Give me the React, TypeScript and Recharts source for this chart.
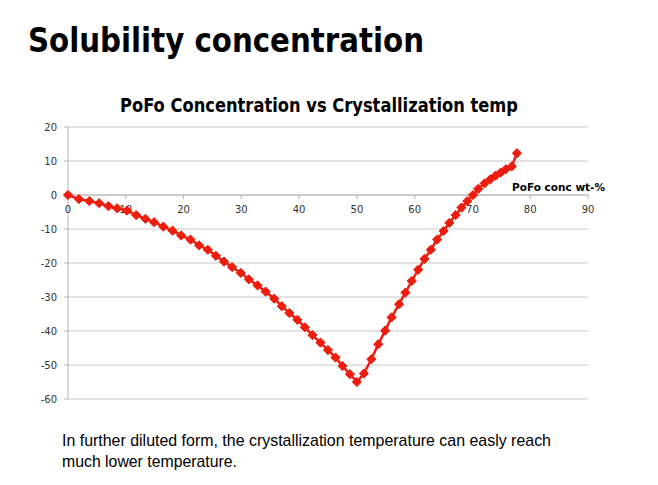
import React from "react";
import { LineChart, Line, XAxis, YAxis, CartesianGrid, ReferenceLine, ReferenceDot } from "recharts";

// PoFo concentration (wt-%) and crystallization temperature (°C)
const concentration = [
  0, 1.9, 3.7, 5.4, 7.0, 8.5, 10.2, 11.8, 13.4, 14.9,
  16.5, 18.1, 19.6, 21.2, 22.7, 24.2, 25.6, 27.0, 28.4, 29.9,
  31.3, 32.8, 34.2, 35.7, 37.0, 38.3, 39.7, 41.0, 42.3, 43.7,
  45.0, 46.3, 47.5, 48.8, 50.0, 51.2, 52.5, 53.7, 54.9, 56.0,
  57.3, 58.4, 59.5, 60.6, 61.7, 62.8, 63.9, 65.0, 66.0, 67.1,
  68.1, 69.1, 70.1, 71.0, 72.1, 73.1, 74.0, 74.9, 75.8, 76.8,
  77.7,
];
const crystTemp = [
  0, -1.2, -1.8, -2.4, -3.3, -3.9, -4.6, -5.9, -7.0, -8.0,
  -9.3, -10.5, -11.9, -13.1, -14.8, -16.1, -17.9, -19.6, -21.2, -22.9,
  -24.8, -26.6, -28.4, -30.5, -32.7, -34.7, -36.7, -38.9, -41.2, -43.4,
  -45.6, -47.8, -50.3, -52.7, -55.0, -52.5, -48.3, -43.9, -39.9, -36.0,
  -32.1, -28.7, -25.3, -22.0, -18.8, -16.1, -13.1, -10.6, -8.2, -5.9,
  -3.7, -1.8, 0, 1.8, 3.4, 4.6, 5.7, 6.6, 7.6, 8.4,
  12.3,
];
const xTicks = [0, 10, 20, 30, 40, 50, 60, 70, 80, 90];
const yTicks = [20, 10, 0, -10, -20, -30, -40, -50, -60];

const pageTitle = "Solubility concentration";
const chartTitle = "PoFo Concentration vs Crystallization temp";
const xAxisName = "PoFo conc wt-%";
const captionLines = [
  "In further diluted form, the crystallization temperature can easly reach",
  "much lower temperature.",
];

const data = concentration.map((c, i) => ({ conc: c, temp: crystTemp[i] }));

const RED = "#ee1c0c";
const AXIS_GRAY = "#b4b4b4";
const TICK_FONT = "'DejaVu Sans', Verdana, sans-serif";

const Diamond = (props: any) => {
  const { cx, cy } = props;
  if (cx == null || cy == null) return null;
  const s = 4.6;
  return (
    <polygon
      points={`${cx},${cy - s} ${cx + s},${cy} ${cx},${cy + s} ${cx - s},${cy}`}
      fill={RED}
      stroke={RED}
      strokeWidth={1}
    />
  );
};

// x ticks sit on the zero line, so draw them through the chart's own scale
const zeroTick = (v: number) => (props: any) => {
  const { cx, cy } = props;
  return (
    <g>
      <line x1={cx} y1={cy} x2={cx} y2={cy + 4} stroke={AXIS_GRAY} />
      <text x={cx} y={cy + 18} textAnchor="middle" fontSize={10} fontFamily={TICK_FONT} fill="#333">
        {v}
      </text>
    </g>
  );
};

export default function App() {
  return (
    <div style={{ position: "absolute", left: 0, top: 0, width: 658, height: 485, background: "#fff" }}>
      <LineChart width={658} height={485} data={data} margin={{ top: 127, right: 70, bottom: 86, left: 38 }}>
        <CartesianGrid vertical={false} stroke="#c8c8c8" />
        <XAxis dataKey="conc" type="number" domain={[0, 90]} ticks={xTicks} hide />
        <YAxis
          type="number"
          domain={[-60, 20]}
          ticks={yTicks}
          width={30}
          tickSize={4}
          tickMargin={7}
          stroke={AXIS_GRAY}
          tick={{ fontSize: 10, fontFamily: TICK_FONT, fill: "#333" }}
          interval={0}
        />
        <ReferenceLine
          y={0}
          stroke={AXIS_GRAY}
          label={{
            content: (p: any) => {
              const vb = p.viewBox || {};
              return (
                <text
                  x={vb.x + vb.width + 17}
                  y={vb.y - 4}
                  textAnchor="end"
                  fontSize={10.5}
                  fontWeight="bold"
                  fontFamily={TICK_FONT}
                  fill="#000"
                >
                  {xAxisName}
                </text>
              );
            },
          }}
        />
        {xTicks.map((v) => (
          <ReferenceDot key={v} x={v} y={0} r={0} shape={zeroTick(v)} />
        ))}
        <Line
          type="linear"
          dataKey="temp"
          stroke={RED}
          strokeWidth={2.5}
          dot={<Diamond />}
          activeDot={false}
          isAnimationActive={false}
        />
      </LineChart>
      <svg width={658} height={485} style={{ position: "absolute", left: 0, top: 0, pointerEvents: "none" }}>
        <text x={28} y={52} fontSize={33} fontWeight="bold" fontFamily={TICK_FONT} textLength={396} lengthAdjust="spacingAndGlyphs" fill="#000">
          {pageTitle}
        </text>
        <text x={120} y={112} fontSize={19} fontWeight="bold" fontFamily={TICK_FONT} textLength={398} lengthAdjust="spacingAndGlyphs" fill="#000">
          {chartTitle}
        </text>
        <text x={62} y={446} fontSize={17} fontFamily="'Liberation Sans', Arial, sans-serif" textLength={489} lengthAdjust="spacingAndGlyphs" fill="#000">
          {captionLines[0]}
        </text>
        <text x={62} y={467} fontSize={17} fontFamily="'Liberation Sans', Arial, sans-serif" textLength={175} lengthAdjust="spacingAndGlyphs" fill="#000">
          {captionLines[1]}
        </text>
      </svg>
    </div>
  );
}
